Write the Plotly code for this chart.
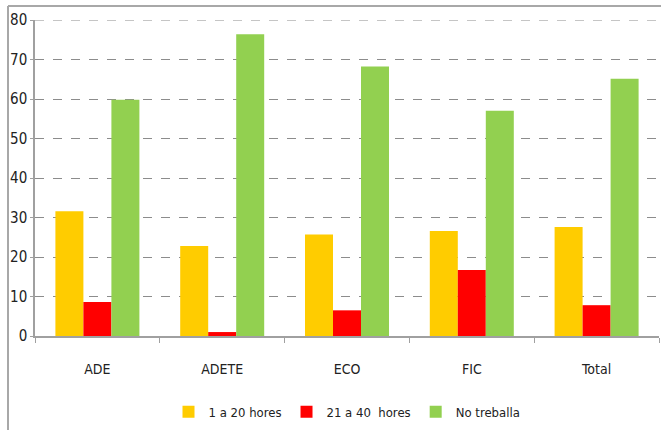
import plotly.graph_objects as go

categories = ["ADE", "ADETE", "ECO", "FIC", "Total"]
h1_20 = [31.6, 22.8, 25.7, 26.6, 27.6]
h21_40 = [8.6, 1.0, 6.5, 16.7, 7.8]
no_treballa = [59.8, 76.4, 68.2, 57.0, 65.1]
series_names = ["1 a 20 hores", "21 a 40  hores", "No treballa"]
colors = ["#FFCC00", "#FF0000", "#92D050"]
y_max = 80

font_family = "DejaVu Sans Condensed, Liberation Sans Narrow, Arial Narrow, sans-serif"

fig = go.Figure()
for name, vals, c in zip(series_names, [h1_20, h21_40, no_treballa], colors):
    fig.add_trace(go.Bar(x=categories, y=vals, name=name, marker=dict(color=c, line=dict(width=0))))

frame = dict(color="#A8A8A8", width=2)
fx0 = (8 - 35) / 624
fy1 = 1 + (20 - 6) / 316
fy0 = (336 - 440) / 316

fig.update_layout(
    width=661, height=430,
    margin=dict(l=35, r=2, t=20, b=94, autoexpand=False),
    paper_bgcolor="white", plot_bgcolor="white",
    barmode="group", bargap=0.327, bargroupgap=0,
    font=dict(family=font_family, size=14, color="#222"),
    showlegend=True,
    legend=dict(orientation="h", x=0.5, xanchor="center", y=-0.24, yanchor="middle",
                font=dict(size=13), itemwidth=30, traceorder="normal"),
    xaxis=dict(showline=True, linecolor="#A0A0A0", linewidth=1.5, automargin=False,
               ticks="outside", ticklen=5, tickcolor="#A0A0A0", tickson="boundaries",
               ticklabelstandoff=19, showgrid=False, tickfont=dict(size=14)),
    yaxis=dict(range=[0, y_max], dtick=10, showline=True, linecolor="#A0A0A0", linewidth=1.5,
               automargin=False, ticks="outside", ticklen=3, tickcolor="#A0A0A0",
               showgrid=True, gridcolor="#8C8C8C", griddash="dash", gridwidth=1,
               zeroline=False, tickfont=dict(size=15)),
    shapes=[
        dict(type="line", xref="paper", yref="paper", x0=fx0, x1=1.05, y0=fy1, y1=fy1, line=frame),
        dict(type="line", xref="paper", yref="paper", x0=fx0, x1=fx0, y0=fy0, y1=fy1, line=frame),
        dict(type="line", xref="paper", yref="y", x0=0, x1=1, y0=y_max, y1=y_max,
             line=dict(color="#8C8C8C", width=1, dash="dash")),
    ],
)

fig.write_html("out.html", config={"displayModeBar": False},
               post_script="document.body.style.margin='0';document.body.style.overflow='hidden';")
